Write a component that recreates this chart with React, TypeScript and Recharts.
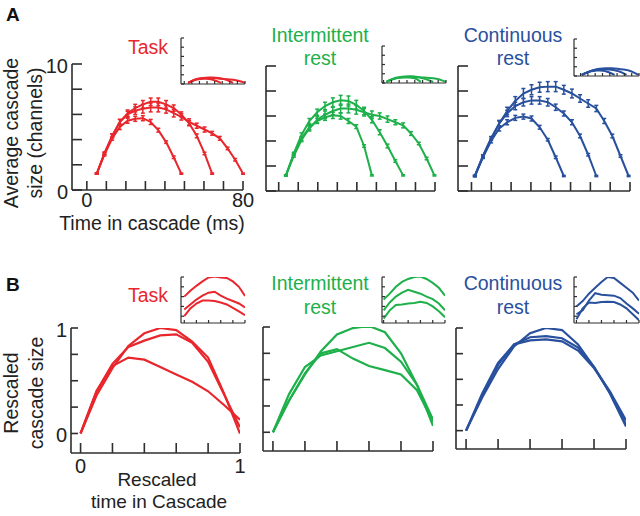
import React from 'react';
import { LineChart, Line, XAxis, YAxis, ErrorBar } from 'recharts';

const FONT = '"Liberation Sans", Arial, Helvetica, sans-serif';
const AXIS = '#2e2e2e';
const RED = '#e8262c';
const GREEN = '#1eb04a';
const BLUE = '#28509d';

// ---------- Panel A : time axes (ms) ----------
const TASK_T = [5.1, 9, 13, 16.9, 20.9, 24.8, 28.7, 32.7, 36.6, 40.6, 44.5, 48.4, 52.4, 56.3, 60.3, 64.2, 68.1, 72.1, 76, 80];
const INT_T = [3.7, 7.7, 11.7, 15.7, 19.7, 23.7, 27.7, 31.7, 35.7, 39.7, 43.7, 47.7, 51.7, 55.7, 59.7, 63.7, 67.7, 71.7, 75.7, 79.7];
const CONT_T = [1.7, 5.8, 9.9, 14, 18, 22.1, 26.2, 30.3, 34.4, 38.5, 42.5, 46.6, 50.7, 54.8, 58.9, 63, 67, 71.1, 75.2, 79.3];

// Task: average cascade size (channels)
const TASK_SHORT = [1.3, 2.8, 4.1, 5.0, 5.5, 5.65, 5.7, 5.4, 4.75, 3.8, 2.6, 1.3];
const TASK_MID = [1.3, 2.9, 4.3, 5.4, 6.1, 6.5, 6.8, 7.0, 7.0, 6.8, 6.5, 6.0, 5.3, 4.3, 2.9, 1.3];
const TASK_LONG = [1.3, 2.9, 4.3, 5.4, 6.0, 6.3, 6.45, 6.55, 6.55, 6.4, 6.1, 5.8, 5.4, 5.1, 4.8, 4.5, 4.1, 3.3, 2.4, 1.3];
const TASK_SHORT_ERR = [0.05, 0.1, 0.15, 0.2, 0.2, 0.2, 0.2, 0.2, 0.15, 0.1, 0.1, 0.05];
const TASK_MID_ERR = [0.05, 0.1, 0.15, 0.2, 0.25, 0.3, 0.3, 0.3, 0.3, 0.3, 0.25, 0.2, 0.2, 0.15, 0.1, 0.05];
const TASK_LONG_ERR = [0.05, 0.1, 0.15, 0.2, 0.25, 0.3, 0.35, 0.35, 0.35, 0.3, 0.3, 0.25, 0.25, 0.2, 0.2, 0.15, 0.15, 0.1, 0.1, 0.05];

// Intermittent rest
const INT_SHORT = [1.25, 2.9, 4.2, 5.1, 5.6, 5.9, 6.05, 6.0, 5.6, 5.15, 3.6, 1.25];
const INT_MID = [1.25, 3.0, 4.5, 5.6, 6.3, 6.8, 7.1, 7.25, 7.2, 6.9, 6.4, 5.7, 4.7, 3.6, 2.4, 1.25];
const INT_LONG = [1.25, 2.8, 4.1, 5.0, 5.7, 6.1, 6.4, 6.6, 6.6, 6.5, 6.3, 6.1, 6.0, 5.75, 5.5, 5.25, 4.6, 3.8, 2.6, 1.25];
const INT_SHORT_ERR = [0.05, 0.1, 0.15, 0.2, 0.2, 0.25, 0.25, 0.25, 0.2, 0.15, 0.1, 0.05];
const INT_MID_ERR = [0.05, 0.1, 0.15, 0.2, 0.25, 0.3, 0.35, 0.4, 0.4, 0.35, 0.3, 0.25, 0.2, 0.15, 0.1, 0.05];
const INT_LONG_ERR = [0.05, 0.1, 0.15, 0.2, 0.25, 0.3, 0.3, 0.35, 0.35, 0.35, 0.3, 0.3, 0.25, 0.25, 0.2, 0.2, 0.15, 0.1, 0.1, 0.05];

// Continuous rest
const CONT_SHORT = [1.2, 2.7, 4.0, 5.0, 5.5, 5.85, 5.95, 5.8, 5.1, 4.1, 2.7, 1.2];
const CONT_MID = [1.2, 2.8, 4.2, 5.4, 6.2, 6.8, 7.1, 7.25, 7.25, 7.1, 6.7, 6.2, 5.5, 4.4, 2.9, 1.2];
const CONT_LONG = [1.2, 2.8, 4.2, 5.4, 6.4, 7.2, 7.8, 8.1, 8.3, 8.35, 8.35, 8.1, 7.8, 7.4, 7.0, 6.6, 5.6, 4.4, 2.8, 1.2];
const CONT_SHORT_ERR = [0.05, 0.1, 0.15, 0.2, 0.2, 0.2, 0.2, 0.2, 0.15, 0.1, 0.1, 0.05];
const CONT_MID_ERR = [0.05, 0.1, 0.15, 0.2, 0.25, 0.3, 0.3, 0.3, 0.3, 0.3, 0.25, 0.2, 0.2, 0.15, 0.1, 0.05];
const CONT_LONG_ERR = [0.05, 0.1, 0.15, 0.25, 0.3, 0.35, 0.4, 0.4, 0.4, 0.4, 0.4, 0.35, 0.35, 0.3, 0.3, 0.25, 0.2, 0.15, 0.1, 0.05];

// ---------- Panel B : rescaled ----------
const RESC_X = [0, 0.1, 0.2, 0.3, 0.4, 0.5, 0.6, 0.7, 0.8, 0.9, 1.0];
const B_TASK_1 = [0, 0.36, 0.62, 0.83, 0.95, 1.0, 0.98, 0.87, 0.72, 0.38, 0.0];
const B_TASK_2 = [0, 0.4, 0.66, 0.82, 0.88, 0.93, 0.94, 0.86, 0.68, 0.37, 0.06];
const B_TASK_3 = [0, 0.4, 0.64, 0.72, 0.7, 0.63, 0.56, 0.49, 0.4, 0.27, 0.13];
const B_INT_1 = [0, 0.3, 0.55, 0.77, 0.93, 0.99, 1.01, 0.95, 0.75, 0.45, 0.06];
const B_INT_2 = [0, 0.36, 0.62, 0.73, 0.77, 0.81, 0.85, 0.8, 0.67, 0.45, 0.12];
const B_INT_3 = [0, 0.3, 0.56, 0.75, 0.79, 0.7, 0.63, 0.59, 0.55, 0.4, 0.1];
const B_CONT_1 = [0, 0.32, 0.6, 0.82, 0.95, 1.0, 0.98, 0.84, 0.62, 0.36, 0.04];
const B_CONT_2 = [0, 0.34, 0.64, 0.84, 0.91, 0.92, 0.9, 0.81, 0.62, 0.37, 0.06];
const B_CONT_3 = [0, 0.36, 0.66, 0.84, 0.88, 0.89, 0.87, 0.78, 0.61, 0.38, 0.1];

// B insets
const BI_TASK_1 = [2.0, 2.6, 3.1, 3.55, 3.95, 4.05, 3.95, 3.9, 3.55, 3.0, 2.06];
const BI_TASK_2 = [0.69, 1.2, 1.7, 2.1, 2.4, 2.5, 2.1, 1.8, 1.55, 1.3, 0.9];
const BI_TASK_3 = [0.0, 0.8, 1.3, 1.6, 1.6, 1.55, 1.4, 1.2, 0.85, 0.5, 0.1];
const BI_INT_1 = [1.7, 2.3, 3.0, 3.5, 3.8, 4.0, 4.05, 3.8, 3.4, 2.9, 2.1];
const BI_INT_2 = [0.6, 1.4, 2.0, 2.4, 2.7, 2.5, 2.3, 2.0, 1.75, 1.3, 0.6];
const BI_INT_3 = [-0.25, 0.6, 1.15, 1.2, 1.3, 1.35, 1.47, 1.35, 1.0, 0.5, -0.1];
const BI_CONT_1 = [1.0, 1.55, 2.3, 2.9, 3.5, 4.0, 3.9, 3.4, 2.9, 2.4, 1.6];
const BI_CONT_2 = [0.2, 0.6, 1.6, 2.35, 2.2, 2.15, 2.1, 1.85, 1.3, 0.8, 0.25];
const BI_CONT_3 = [-0.3, 0.8, 1.4, 1.35, 1.45, 1.47, 1.45, 1.2, 0.8, 0.2, -0.4];

// ticks
const A_X_TICKS = [0, 10, 20, 30, 40, 50, 60, 70, 80];
const A_X_LABELS = ['0', '', '', '', '', '', '', '', '80'];
const A_Y_TICKS = [0, 2, 4, 6, 8, 10];
const A_Y_LABELS = ['0', '', '', '', '', '10'];
const B_X_TICKS = [0, 0.2, 0.4, 0.6, 0.8, 1];
const B_X_LABELS = ['0', '', '', '', '', '1'];
const B_Y_TICKS = [0, 0.25, 0.5, 0.75, 1];
const B_Y_LABELS = ['0', '', '', '', '1'];
const AI_Y_TICKS_50 = [0, 10, 20, 30, 40, 50];
const AI_Y_TICKS_40 = [0, 10, 20, 30, 40];
const BI_Y_TICKS = [0, 1, 2, 3, 4];

type Pt = { t: number; y: number; e: number };
const toPts = (t: number[], y: number[], e?: number[]): Pt[] =>
  y.map((v, i) => ({ t: t[i], y: v, e: e ? e[i] : 0 }));

type Series = { data: Pt[]; color: string; err?: boolean };
type Cfg = {
  box: [number, number, number, number];
  xDomain: [number, number];
  yDomain: [number, number];
  xTicks: number[];
  yTicks: number[];
  xLabels?: string[];
  yLabels?: string[];
  xLen: number;
  yLen: number;
  axisW: number;
  lineW: number;
  series: Series[];
  xLabOff?: number;
};

const mkXTick = (len: number, sw: number, labels?: string[], off = 20) => (p: any) => {
  const { x, y, index } = p;
  const lab = labels ? labels[index] : '';
  return (
    <g>
      <line x1={x} y1={y} x2={x} y2={y - len} stroke={AXIS} strokeWidth={sw} />
      {lab ? (
        <text x={x} y={y + off} textAnchor="middle" fontSize={20} fontFamily={FONT} fill="#222">
          {lab}
        </text>
      ) : null}
    </g>
  );
};

const mkYTick = (len: number, sw: number, labels?: string[]) => (p: any) => {
  const { x, y, index } = p;
  const lab = labels ? labels[index] : '';
  return (
    <g>
      <line x1={x} y1={y} x2={x + len} y2={y} stroke={AXIS} strokeWidth={sw} />
      {lab ? (
        <text x={x - 4} y={y + 9} textAnchor="end" fontSize={20} fontFamily={FONT} fill="#222">
          {lab}
        </text>
      ) : null}
    </g>
  );
};

function Panel({ cfg }: { cfg: Cfg }) {
  const [l, t, r, b] = cfg.box;
  // axes get 1px of room (a 0-sized axis is not drawn)
  return (
    <div style={{ position: 'absolute', left: 0, top: 0 }}>
      <LineChart width={640} height={516} margin={{ left: l - 1, top: t, right: 640 - r, bottom: 516 - b - 1 }}>
        <XAxis
          type="number"
          dataKey="t"
          domain={cfg.xDomain}
          allowDataOverflow
          ticks={cfg.xTicks}
          interval={0}
          height={1}
          tickSize={0}
          tickMargin={0}
          tickLine={false}
          axisLine={{ stroke: AXIS, strokeWidth: cfg.axisW }}
          tick={mkXTick(cfg.xLen, cfg.axisW, cfg.xLabels, cfg.xLabOff)}
        />
        <YAxis
          type="number"
          dataKey="y"
          domain={cfg.yDomain}
          allowDataOverflow
          ticks={cfg.yTicks}
          interval={0}
          width={1}
          tickSize={0}
          tickMargin={0}
          tickLine={false}
          axisLine={{ stroke: AXIS, strokeWidth: cfg.axisW }}
          tick={mkYTick(cfg.yLen, cfg.axisW, cfg.yLabels)}
        />
        {cfg.series.map((s, i) => (
          <Line
            key={i}
            data={s.data}
            dataKey="y"
            type="linear"
            stroke={s.color}
            strokeWidth={cfg.lineW}
            dot={false}
            isAnimationActive={false}
          >
            {s.err ? (
              <ErrorBar dataKey="e" width={2} strokeWidth={1.5} stroke={s.color} direction="y" isAnimationActive={false} />
            ) : null}
          </Line>
        ))}
      </LineChart>
    </div>
  );
}

const aSeries = (t: number[], ys: number[][], es: number[][] | null, color: string): Series[] =>
  ys.map((y, i) => ({ data: toPts(t, y, es ? es[i] : undefined), color, err: !!es }));

const panels: Cfg[] = [
  // A mains
  {
    box: [72, 64, 243, 190], xDomain: [-7.6, 80], yDomain: [0, 10], xTicks: A_X_TICKS, yTicks: A_Y_TICKS,
    xLabels: A_X_LABELS, yLabels: A_Y_LABELS, xLen: 9, yLen: 10, axisW: 1.6, lineW: 2, xLabOff: 17,
    series: aSeries(TASK_T, [TASK_SHORT, TASK_MID, TASK_LONG], [TASK_SHORT_ERR, TASK_MID_ERR, TASK_LONG_ERR], RED),
  },
  {
    box: [266, 66, 435, 191], xDomain: [-6.5, 80], yDomain: [0, 10], xTicks: A_X_TICKS, yTicks: A_Y_TICKS,
    xLen: 9, yLen: 10, axisW: 1.6, lineW: 2,
    series: aSeries(INT_T, [INT_SHORT, INT_MID, INT_LONG], [INT_SHORT_ERR, INT_MID_ERR, INT_LONG_ERR], GREEN),
  },
  {
    box: [458, 66, 630, 191], xDomain: [-6.8, 80], yDomain: [0, 10], xTicks: A_X_TICKS, yTicks: A_Y_TICKS,
    xLen: 9, yLen: 10, axisW: 1.6, lineW: 2,
    series: aSeries(CONT_T, [CONT_SHORT, CONT_MID, CONT_LONG], [CONT_SHORT_ERR, CONT_MID_ERR, CONT_LONG_ERR], BLUE),
  },
  // A insets
  {
    box: [181, 38, 245, 84], xDomain: [-4.3, 80], yDomain: [0, 50], xTicks: A_X_TICKS, yTicks: AI_Y_TICKS_50,
    xLen: 3, yLen: 3, axisW: 1.2, lineW: 2,
    series: aSeries(TASK_T, [TASK_SHORT, TASK_MID, TASK_LONG], null, RED),
  },
  {
    box: [382, 46, 446, 83], xDomain: [-2, 80], yDomain: [0, 40], xTicks: A_X_TICKS, yTicks: AI_Y_TICKS_40,
    xLen: 3, yLen: 3, axisW: 1.2, lineW: 2,
    series: aSeries(INT_T, [INT_SHORT, INT_MID, INT_LONG], null, GREEN),
  },
  {
    box: [574, 39, 639, 76], xDomain: [-9, 80], yDomain: [0, 40], xTicks: A_X_TICKS, yTicks: AI_Y_TICKS_40,
    xLen: 3, yLen: 3, axisW: 1.2, lineW: 2,
    series: aSeries(CONT_T, [CONT_SHORT, CONT_MID, CONT_LONG], null, BLUE),
  },
  // B mains
  {
    box: [71, 328, 240, 453], xDomain: [-0.06, 1], yDomain: [-0.185, 1], xTicks: B_X_TICKS, yTicks: B_Y_TICKS,
    xLabels: B_X_LABELS, yLabels: B_Y_LABELS, xLen: 10, yLen: 7, axisW: 1.6, lineW: 2.2, xLabOff: 20,
    series: aSeries(RESC_X, [B_TASK_1, B_TASK_2, B_TASK_3], null, RED),
  },
  {
    box: [263, 327, 433, 451], xDomain: [-0.062, 1], yDomain: [-0.178, 1], xTicks: B_X_TICKS, yTicks: B_Y_TICKS,
    xLen: 10, yLen: 7, axisW: 1.6, lineW: 2.2,
    series: aSeries(RESC_X, [B_INT_1, B_INT_2, B_INT_3], null, GREEN),
  },
  {
    box: [456, 328, 626, 449], xDomain: [-0.063, 1], yDomain: [-0.179, 1], xTicks: B_X_TICKS, yTicks: B_Y_TICKS,
    xLen: 10, yLen: 7, axisW: 1.6, lineW: 2.2,
    series: aSeries(RESC_X, [B_CONT_1, B_CONT_2, B_CONT_3], null, BLUE),
  },
  // B insets
  {
    box: [181, 277, 245, 323], xDomain: [-0.054, 1], yDomain: [-0.69, 4], xTicks: B_X_TICKS, yTicks: BI_Y_TICKS,
    xLen: 3, yLen: 3, axisW: 1.2, lineW: 2,
    series: aSeries(RESC_X, [BI_TASK_1, BI_TASK_2, BI_TASK_3], null, RED),
  },
  {
    box: [382, 277, 445, 323], xDomain: [-0.026, 1], yDomain: [-0.69, 4], xTicks: B_X_TICKS, yTicks: BI_Y_TICKS,
    xLen: 3, yLen: 3, axisW: 1.2, lineW: 2,
    series: aSeries(RESC_X, [BI_INT_1, BI_INT_2, BI_INT_3], null, GREEN),
  },
  {
    box: [574, 277, 639, 323], xDomain: [-0.039, 1], yDomain: [-0.69, 4], xTicks: B_X_TICKS, yTicks: BI_Y_TICKS,
    xLen: 3, yLen: 3, axisW: 1.2, lineW: 2,
    series: aSeries(RESC_X, [BI_CONT_1, BI_CONT_2, BI_CONT_3], null, BLUE),
  },
];

const T = (props: any) => <text fontFamily={FONT} fontSize={19.5} {...props} />;

export default function App() {
  return (
    <div style={{ position: 'absolute', left: 0, top: 0, width: 640, height: 516, background: '#fff', overflow: 'hidden' }}>
      {panels.map((c, i) => (
        <Panel key={i} cfg={c} />
      ))}
      <svg width={640} height={516} style={{ position: 'absolute', left: 0, top: 0, pointerEvents: 'none' }}>
        <T x={6} y={21} fontWeight="bold" fontSize={19} fill="#111">A</T>
        <T x={6} y={291} fontWeight="bold" fontSize={19} fill="#111">B</T>

        <T x={148} y={54} textAnchor="middle" fill={RED}>Task</T>
        <T x={320} y={41.5} textAnchor="middle" fill={GREEN}>
          <tspan x={320}>Intermittent</tspan>
          <tspan x={320} dy={23.5}>rest</tspan>
        </T>
        <T x={513} y={41.5} textAnchor="middle" fill={BLUE}>
          <tspan x={513}>Continuous</tspan>
          <tspan x={513} dy={23.5}>rest</tspan>
        </T>

        <T x={148} y={301.5} textAnchor="middle" fill={RED}>Task</T>
        <T x={320} y={290} textAnchor="middle" fill={GREEN}>
          <tspan x={320}>Intermittent</tspan>
          <tspan x={320} dy={23.5}>rest</tspan>
        </T>
        <T x={513} y={290} textAnchor="middle" fill={BLUE}>
          <tspan x={513}>Continuous</tspan>
          <tspan x={513} dy={23.5}>rest</tspan>
        </T>

        <T transform="translate(0,133) rotate(-90)" textAnchor="middle" fill="#222">
          <tspan x={0} y={17.5}>Average cascade</tspan>
          <tspan x={0} y={41.5}>size (channels)</tspan>
        </T>
        <T x={152} y={229.5} textAnchor="middle" fill="#222">Time in cascade (ms)</T>

        <T transform="translate(0,393) rotate(-90)" textAnchor="middle" fill="#222">
          <tspan x={0} y={17.5}>Rescaled</tspan>
          <tspan x={0} y={42.5}>cascade size</tspan>
        </T>
        <T x={157} y={486} textAnchor="middle" fill="#222" fontSize={19}>Rescaled</T>
        <T x={159} y={508} textAnchor="middle" fill="#222" fontSize={19}>time in Cascade</T>
      </svg>
    </div>
  );
}
